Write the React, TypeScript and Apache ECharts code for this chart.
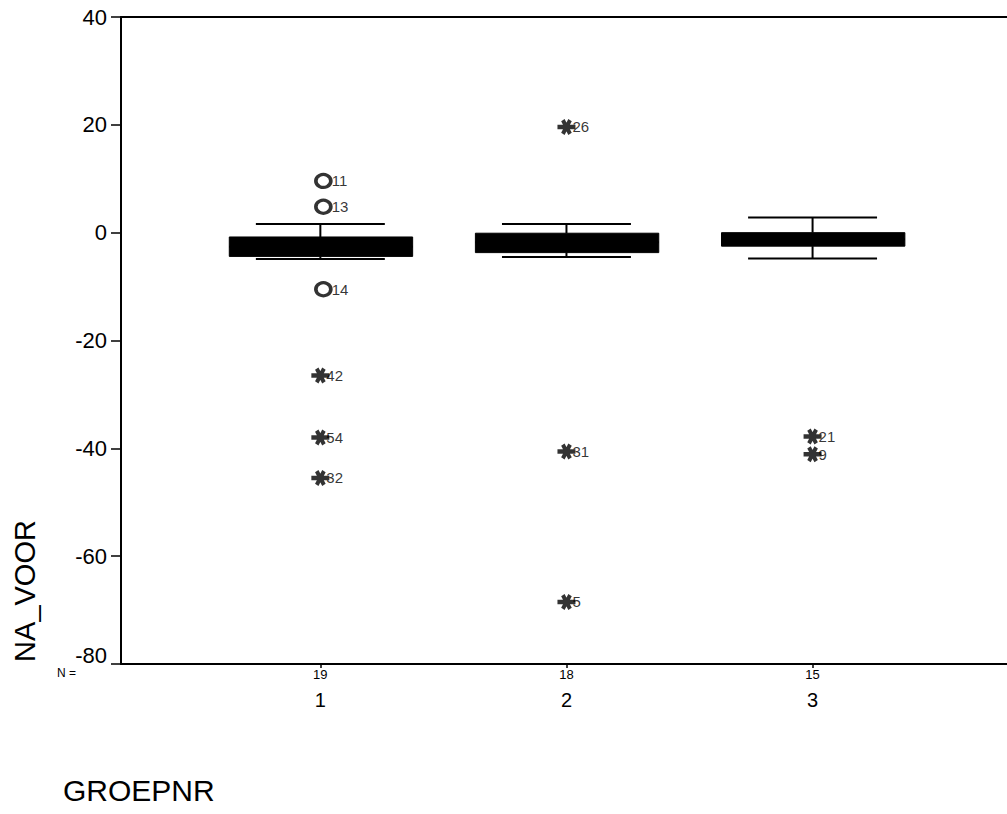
import React, { useEffect, useRef } from "react";
import * as echarts from "echarts";

// ---- data ----
const groups = [1, 2, 3];
const nCounts = [19, 18, 15];
const whiskerLow = [-4.9, -4.5, -4.8];
const q1 = [-4.4, -3.7, -2.5];
const median = [-2.6, -1.8, -1.2];
const q3 = [-0.8, -0.1, 0.0];
const whiskerHigh = [1.6, 1.6, 2.8];

// mild outliers (circles): [group, value, case label]
const circleGroup = [1, 1, 1];
const circleValue = [9.6, 4.8, -10.5];
const circleLabel = ["11", "13", "14"];

// extreme outliers (asterisks)
const starGroup = [1, 1, 1, 2, 2, 2, 3, 3];
const starValue = [-26.5, -38.0, -45.5, 19.6, -40.6, -68.5, -37.8, -41.1];
const starLabel = ["42", "54", "32", "26", "31", "5", "21", "9"];

const yTicks = { min: -80, max: 40, step: 20 };
const xTitle = "GROEPNR";
const yTitle = "NA_VOOR";

const FONT = "Arial, 'Liberation Sans', sans-serif";

const starPath =
  "path://M0 7.8 L20 7.8 L20 12.2 L0 12.2 Z " +
  "M4.1 4.4 L7.9 2.2 L15.9 15.6 L12.1 17.8 Z " +
  "M12.1 2.2 L15.9 4.4 L7.9 17.8 L4.1 15.6 Z";

export default function App() {
  const ref = useRef<HTMLDivElement>(null);
  useEffect(() => {
    if (!ref.current) return;
    const chart = echarts.init(ref.current, undefined, { renderer: "svg" });
    const boxData = groups.map((g, i) => [g, whiskerLow[i], q1[i], median[i], q3[i], whiskerHigh[i]]);
    const option: any = {
      animation: false,
      backgroundColor: "#fff",
      grid: { left: 121, top: 17, right: 0, bottom: 150, containLabel: false },
      xAxis: [
        {
          type: "value",
          min: 0.19,
          max: 3.79,
          position: "bottom",
          splitLine: { show: false },
          axisLine: { show: true, onZero: false, lineStyle: { color: "#000", width: 2 } },
          axisTick: {
            show: true,
            customValues: groups,
            length: 4,
            lineStyle: { color: "#000", width: 1.5 },
          },
          axisLabel: {
            show: true,
            customValues: groups,
            margin: 3,
            color: "#000",
            fontFamily: FONT,
            formatter: (v: number) => `{n|${nCounts[groups.indexOf(v)]}}\n{c|${v}}`,
            rich: {
              n: { fontSize: 13, lineHeight: 14, fontFamily: FONT, color: "#000" },
              c: { fontSize: 20, lineHeight: 38, fontFamily: FONT, color: "#000" },
            },
          },
        },
        {
          type: "value",
          min: 0.19,
          max: 3.79,
          position: "top",
          splitLine: { show: false },
          axisLine: { show: true, onZero: false, lineStyle: { color: "#000", width: 2 } },
          axisTick: { show: false },
          axisLabel: { show: false },
        },
      ],
      yAxis: {
        type: "value",
        min: yTicks.min,
        max: yTicks.max,
        interval: yTicks.step,
        splitLine: { show: false },
        axisLine: { show: true, lineStyle: { color: "#000", width: 2 } },
        axisTick: { show: true, length: 10, lineStyle: { color: "#000", width: 1.5 } },
        axisLabel: {
          color: "#000",
          fontSize: 22,
          fontFamily: FONT,
          margin: 14,
          formatter: (v: number) => (v === yTicks.min ? `{up|${v}}` : `${v}`),
          rich: { up: { fontSize: 22, fontFamily: FONT, color: "#000", padding: [0, 0, 18, 0] } },
        },
      },
      graphic: [
        {
          type: "text",
          left: 57,
          top: 667,
          style: { text: "N =", fontSize: 12, fontFamily: FONT, fill: "#000" },
        },
        {
          type: "text",
          left: 63,
          top: 775,
          style: { text: xTitle, fontSize: 30, fontFamily: FONT, fill: "#000" },
        },
        {
          type: "text",
          x: 25,
          y: 591,
          rotation: Math.PI / 2,
          style: {
            text: yTitle,
            fontSize: 29,
            fontFamily: FONT,
            fill: "#000",
            align: "center",
            verticalAlign: "middle",
          },
        },
      ],
      series: [
        {
          type: "custom",
          xAxisIndex: 0,
          data: boxData,
          renderItem: (params: any, api: any) => {
            const x = api.value(0);
            const lo = api.coord([x, api.value(1)]);
            const b1 = api.coord([x - 0.37, api.value(2)]);
            const b2 = api.coord([x + 0.375, api.value(4)]);
            const med = api.coord([x, api.value(3)]);
            const hi = api.coord([x, api.value(5)]);
            const c1 = api.coord([x - 0.262, 0])[0];
            const c2 = api.coord([x + 0.262, 0])[0];
            const cx = lo[0];
            const ls = { stroke: "#000", lineWidth: 2 };
            return {
              type: "group",
              children: [
                { type: "line", shape: { x1: cx, y1: hi[1], x2: cx, y2: b2[1] }, style: ls },
                { type: "line", shape: { x1: cx, y1: lo[1], x2: cx, y2: b1[1] }, style: ls },
                { type: "line", shape: { x1: c1, y1: hi[1], x2: c2, y2: hi[1] }, style: ls },
                { type: "line", shape: { x1: c1, y1: lo[1], x2: c2, y2: lo[1] }, style: ls },
                {
                  type: "rect",
                  shape: { x: b1[0], y: b2[1], width: b2[0] - b1[0], height: b1[1] - b2[1] },
                  style: { fill: "#000", stroke: "#000", lineWidth: 1 },
                },
                { type: "line", shape: { x1: b1[0], y1: med[1], x2: b2[0], y2: med[1] }, style: ls },
              ],
            };
          },
          z: 2,
        },
        {
          type: "scatter",
          xAxisIndex: 0,
          symbol: "circle",
          symbolSize: [15, 13],
          symbolOffset: [3, 0],
          itemStyle: { color: "#fff", borderColor: "#000", borderWidth: 3.4 },
          data: circleGroup.map((g, i) => ({ value: [g, circleValue[i]], name: circleLabel[i] })),
          label: {
            show: true,
            position: "right",
            distance: -1,
            formatter: (p: any) => p.name,
            fontSize: 15,
            fontFamily: FONT,
            color: "#000",
          },
          z: 3,
        },
        {
          type: "scatter",
          xAxisIndex: 0,
          symbol: starPath,
          symbolSize: [18, 16],
          itemStyle: { color: "#000" },
          data: starGroup.map((g, i) => ({ value: [g, starValue[i]], name: starLabel[i] })),
          label: {
            show: true,
            position: "right",
            distance: -3,
            formatter: (p: any) => p.name,
            fontSize: 15,
            fontFamily: FONT,
            color: "#000",
          },
          z: 3,
        },
      ],
    };
    chart.setOption(option);
    return () => chart.dispose();
  }, []);
  return (
    <div
      ref={ref}
      style={{ position: "absolute", left: 0, top: 0, width: 1007, height: 814, background: "#fff" }}
    />
  );
}
